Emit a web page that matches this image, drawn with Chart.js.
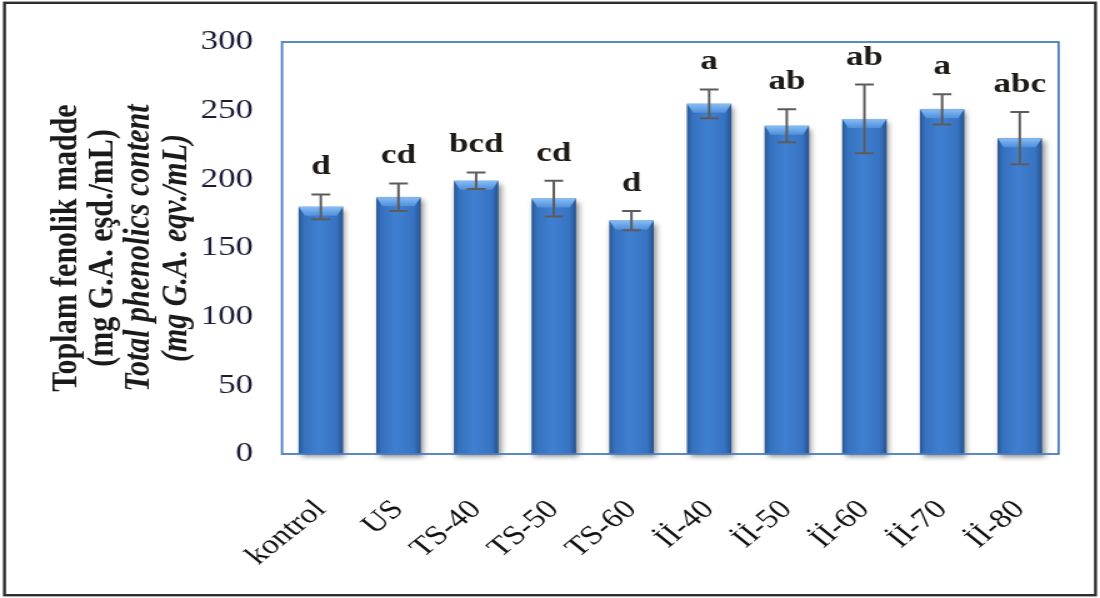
<!DOCTYPE html>
<html>
<head>
<meta charset="utf-8">
<script src="https://cdn.jsdelivr.net/npm/chart.js@4.4.1/dist/chart.umd.min.js"></script>
<style>
  html, body { margin: 0; padding: 0; background: #fff; overflow: hidden; }
  /* the figure is drawn on an 880px canvas and widened to 1100px */
  #wrap { width: 880px; height: 598px; transform: scaleX(1.25); transform-origin: 0 0; }
  canvas { display: block; }
</style>
</head>
<body>
<div id="wrap"><canvas id="chart" width="880" height="598"></canvas></div>
<script>
// Treatments
const categories = ['kontrol', 'US', 'TS-40', 'TS-50', 'TS-60', 'İİ-40', 'İİ-50', 'İİ-60', 'İİ-70', 'İİ-80'];
// Total phenolic content (mg GAE/mL), mean and standard deviation
const means  = [180, 187, 199, 186, 170, 255, 239, 244, 251, 230];
const errors = [9, 10, 6, 13, 7, 10.5, 12, 25, 11, 19];
// Significance groups
const groupLetters = ['d', 'cd', 'bcd', 'cd', 'd', 'a', 'ab', 'ab', 'a', 'abc'];
// Value axis
const yMin = 0, yMax = 300, yStep = 50;

const SERIF = '"Liberation Serif", "Times New Roman", serif';

const titleLines = [
  { text: 'Toplam fenolik madde', font: 'bold 30px ' + SERIF },
  { text: '(mg G.A. eşd./mL)', font: 'bold 30px ' + SERIF },
  { text: 'Total phenolics content', font: 'italic bold 30px ' + SERIF },
  { text: '(mg G.A. eqv./mL)', font: 'italic bold 30px ' + SERIF }
];

const CAT_PCT = 0.8, BAR_PCT = 0.716;

// horizontal shading across each bar
function barFill(ctx) {
  const chart = ctx.chart;
  const xs = chart.scales && chart.scales.x;
  const solid = '#3b78c6';
  if (!xs || typeof ctx.dataIndex !== 'number') return solid;
  const cx = xs.getPixelForValue(ctx.dataIndex);
  const half = (xs.width / categories.length) * CAT_PCT * BAR_PCT / 2;
  if (!isFinite(cx) || !isFinite(half) || half <= 0) return solid;
  const g = chart.ctx.createLinearGradient(cx - half, 0, cx + half, 0);
  g.addColorStop(0, '#2a5894');
  g.addColorStop(0.12, '#3571be');
  g.addColorStop(0.45, '#4080d1');
  g.addColorStop(0.85, '#3773c2');
  g.addColorStop(1, '#27538c');
  return g;
}

const framePlugin = {
  id: 'frame',
  beforeDraw(chart) {
    const c = chart.ctx;
    c.save();
    c.fillStyle = '#ffffff';
    c.fillRect(0, 0, chart.width, chart.height);
    c.strokeStyle = '#2e2e2e';
    c.lineWidth = 2.4;
    c.strokeRect(3.6, 2.8, chart.width - 7.2, chart.height - 5.6);
    c.restore();
  },
  beforeDatasetsDraw(chart) {
    const c = chart.ctx;
    c.save();
    c.shadowColor = 'rgba(0,0,0,0.45)';
    c.shadowBlur = 5;
    c.shadowOffsetX = 2;
    c.shadowOffsetY = 3;
  },
  afterDatasetsDraw(chart) {
    const c = chart.ctx;
    c.restore();
    const meta = chart.getDatasetMeta(0);
    const ys = chart.scales.y;
    const a = chart.chartArea;

    // plot-area box
    c.save();
    c.strokeStyle = '#4a7dbf';
    c.lineWidth = 1.8;
    c.strokeRect(a.left, a.top, a.right - a.left, a.bottom - a.top);
    c.restore();

    meta.data.forEach((bar, i) => {
      const w = bar.width, l = bar.x - w / 2, r = bar.x + w / 2, t = bar.y;
      // bevelled top
      c.save();
      const g = c.createLinearGradient(0, t, 0, t + 10);
      g.addColorStop(0, '#86bdf5');
      g.addColorStop(1, '#4b8ad8');
      c.fillStyle = g;
      c.beginPath();
      c.moveTo(l, t);
      c.lineTo(r, t);
      c.lineTo(r - w * 0.14, t + 9);
      c.lineTo(l + w * 0.14, t + 9);
      c.closePath();
      c.fill();
      c.restore();

      // error bar
      const yTop = ys.getPixelForValue(means[i] + errors[i]);
      const yBot = ys.getPixelForValue(means[i] - errors[i]);
      c.save();
      c.strokeStyle = '#5c5c5c';
      c.lineWidth = 2;
      c.beginPath();
      c.moveTo(bar.x, yTop); c.lineTo(bar.x, yBot);
      c.moveTo(bar.x - 7.5, yTop); c.lineTo(bar.x + 7.5, yTop);
      c.moveTo(bar.x - 7.5, yBot); c.lineTo(bar.x + 7.5, yBot);
      c.stroke();
      c.restore();

      // group letters
      c.save();
      c.fillStyle = '#1e1a16';
      c.font = 'bold 28px ' + SERIF;
      c.textAlign = 'center';
      c.textBaseline = 'alphabetic';
      c.fillText(groupLetters[i], bar.x, yTop - 20);
      c.restore();
    });
  },
  afterDraw(chart) {
    const c = chart.ctx;
    const a = chart.chartArea;
    const cy = (a.top + a.bottom) / 2;
    const xs = [52.8, 82, 111.4, 141.2];
    c.save();
    c.fillStyle = '#1a1a1a';
    c.textAlign = 'center';
    c.textBaseline = 'middle';
    titleLines.forEach((ln, k) => {
      c.save();
      c.translate(xs[k], cy);
      c.rotate(-Math.PI / 2);
      c.font = ln.font;
      c.fillText(ln.text, 0, 0);
      c.restore();
    });
    c.restore();
  }
};

new Chart(document.getElementById('chart'), {
  type: 'bar',
  data: {
    labels: categories,
    datasets: [{
      data: means,
      backgroundColor: barFill,
      borderWidth: 0,
      categoryPercentage: CAT_PCT,
      barPercentage: BAR_PCT,
      clip: false
    }]
  },
  options: {
    responsive: false,
    animation: false,
    devicePixelRatio: 1,
    layout: { padding: { top: 42, right: 25.6, left: 0, bottom: 0 } },
    plugins: { legend: { display: false }, tooltip: { enabled: false } },
    scales: {
      x: {
        grid: { display: false, drawTicks: false, tickLength: 0 },
        border: { display: false },
        ticks: {
          autoSkip: false, minRotation: 45, maxRotation: 45, padding: 40,
          color: '#111', font: { family: SERIF, size: 27 }
        },
        afterFit(scale) { scale.height = 144; }
      },
      y: {
        min: yMin, max: yMax,
        grid: { display: false, drawTicks: false, tickLength: 0 },
        border: { display: false },
        ticks: {
          stepSize: yStep, padding: 23,
          color: '#1c1c38', font: { family: SERIF, size: 28 }
        },
        afterFit(scale) { scale.width = 225.6; }
      }
    }
  },
  plugins: [framePlugin]
});
</script>
</body>
</html>
